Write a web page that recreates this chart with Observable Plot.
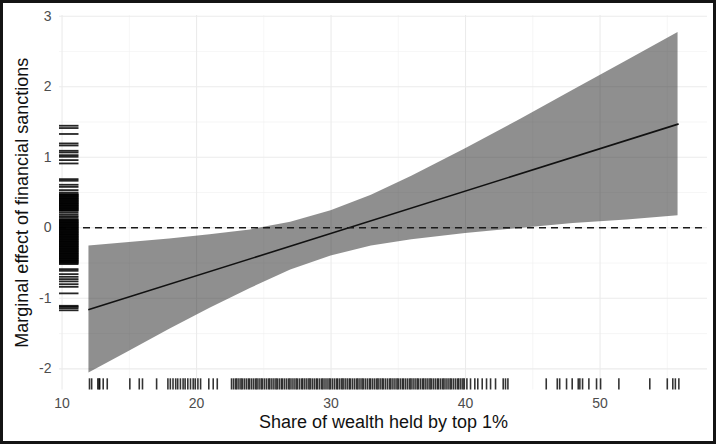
<!DOCTYPE html>
<html><head><meta charset="utf-8">
<script src="https://cdn.jsdelivr.net/npm/d3@7"></script>
<script src="https://cdn.jsdelivr.net/npm/@observablehq/plot@0.6"></script>
<style>
body{margin:0;background:#fff}
#frame{width:716px;height:444px;box-sizing:border-box;border:3px solid #141414;background:#fff;overflow:hidden}
#frame svg{display:block}
</style></head><body><div id="frame"></div>
<script>
// Confidence band of the marginal effect
const bandX    = [12, 15, 18, 21, 24, 27, 30, 33, 36, 40, 44, 48, 52, 55.8];
const bandLow  = [-2.06, -1.75, -1.44, -1.14, -0.86, -0.60, -0.40, -0.26, -0.17, -0.08, -0.01, 0.06, 0.11, 0.17];
const bandHigh = [-0.26, -0.21, -0.16, -0.10, -0.03, 0.08, 0.24, 0.46, 0.73, 1.12, 1.53, 1.95, 2.37, 2.77];
// Point estimate (straight line)
const effectX = [12, 55.8];
const effectY = [-1.16, 1.47];
// Reference line
const zeroLine = [0];
// Rug: observed share of wealth held by top 1%
const rugX = [12.04, 12.2, 12.66, 12.75, 12.8, 13.06, 13.36, 15.04, 15.74, 15.98, 17.03,
  17.87, 18.05, 18.25, 18.45, 18.6, 18.8, 19.0, 19.15, 19.35, 19.55, 19.75, 19.9, 20.1, 20.3,
  20.91, 21.24, 21.54,
  22.6, 22.75, 22.9, 23.0, 23.15, 23.3, 23.4, 23.55, 23.7, 23.85, 23.95, 24.1, 24.25, 24.4, 24.5,
  24.65, 24.8, 24.9, 25.05, 25.2, 25.35, 25.45, 25.6, 25.75, 25.9, 26.0, 26.15, 26.3, 26.4, 26.55,
  26.7, 26.85, 26.95, 27.1, 27.25, 27.4, 27.5, 27.65, 27.8, 27.9, 28.05, 28.2, 28.35, 28.45, 28.6,
  28.75, 28.9, 29.0, 29.15, 29.3, 29.4, 29.55, 29.7, 29.85, 29.95, 30.1, 30.25, 30.4, 30.5, 30.65,
  30.8, 30.9, 31.05, 31.2, 31.35, 31.45, 31.6, 31.75, 31.9, 32.0, 32.15, 32.3, 32.4, 32.55, 32.7,
  32.85, 32.95, 33.1, 33.25, 33.4, 33.5, 33.65, 33.8, 33.9, 34.05, 34.2, 34.35, 34.45, 34.6, 34.75,
  34.9, 35.0, 35.15, 35.3, 35.4, 35.55, 35.7, 35.85, 35.95, 36.1, 36.25, 36.4, 36.5, 36.65, 36.8,
  36.9, 37.05, 37.2, 37.35, 37.45, 37.6, 37.75, 37.9, 38.0, 38.15, 38.3, 38.4, 38.55, 38.7, 38.85,
  38.95, 39.1, 39.25, 39.4, 39.5, 39.65, 39.8, 39.9,
  40.1, 40.37, 40.69, 40.91, 41.24, 41.56, 41.86, 42.23, 42.8, 42.97, 43.15,
  46.0, 46.82, 47.0, 47.51, 47.93, 48.38, 48.5, 48.7, 49.17, 49.74, 50.04, 51.4, 53.7,
  55.0, 55.41, 55.6, 55.86];
// Rug: observed marginal effects
const rugY = [1.447, 1.414, 1.33, 1.196, 1.167, 1.092, 1.068, 1.03, 1.007, 0.96, 0.912,
  0.69, 0.667, 0.61, 0.58, 0.534, 0.50,
  0.478, 0.47, 0.46, 0.45, 0.44, 0.43, 0.42, 0.41, 0.40, 0.39, 0.38, 0.37, 0.36, 0.35, 0.34,
  0.33, 0.32, 0.31, 0.30, 0.29, 0.28, 0.27, 0.26, 0.25, 0.241,
  0.217, 0.19, 0.165, 0.146,
  0.123, 0.11, 0.10, 0.09, 0.08, 0.07, 0.06, 0.05, 0.04, 0.03, 0.02, 0.01, 0.0, -0.01, -0.02,
  -0.03, -0.04, -0.05, -0.06, -0.07, -0.08, -0.09, -0.10, -0.11, -0.12, -0.13, -0.14, -0.15,
  -0.16, -0.17, -0.18, -0.19, -0.20, -0.21, -0.22, -0.23, -0.24, -0.25, -0.26, -0.27, -0.28,
  -0.29, -0.30, -0.31, -0.32, -0.33, -0.34, -0.35, -0.36, -0.37, -0.38, -0.39, -0.40, -0.41,
  -0.42, -0.43, -0.44, -0.45, -0.46, -0.47, -0.48, -0.49, -0.50, -0.515,
  -0.586, -0.61, -0.657, -0.695, -0.728, -0.76, -0.80, -0.837, -0.93, -1.106, -1.12, -1.14, -1.17];
// Axis ticks and labels
const xMajor = [10, 20, 30, 40, 50];
const xMinor = [15, 25, 35, 45, 55];
const yMajor = [-2, -1, 0, 1, 2, 3];
const yMinor = [-1.5, -0.5, 0.5, 1.5, 2.5];
const xTitle = "Share of wealth held by top 1%";
const yTitle = "Marginal effect of financial sanctions";

const band = bandX.map((x, i) => ({x, lo: bandLow[i], hi: bandHigh[i]}));
const effect = effectX.map((x, i) => ({x, y: effectY[i]}));

const W = 710, H = 438;
const mL = 56, mR = 6, mT = 12, mB = 51.5;
const panelW = W - mL - mR, panelH = H - mT - mB;

const chart = Plot.plot({
  width: W, height: H,
  marginLeft: mL, marginRight: mR, marginTop: mT, marginBottom: mB,
  style: {fontFamily: "'Liberation Sans', Arial, Helvetica, sans-serif", fontSize: "14px", color: "#4d4d4d", background: "#fff"},
  x: {domain: [9.81, 57.99], ticks: xMajor, tickSize: 0, tickPadding: 8, label: null, tickFormat: d => String(d)},
  y: {domain: [-2.30, 3.01], ticks: yMajor, tickSize: 0, tickPadding: 8, label: null, tickFormat: d => String(d)},
  marks: [
    Plot.ruleX(xMinor, {stroke: "#f0f0f0", strokeWidth: 0.6}),
    Plot.ruleY(yMinor, {stroke: "#f0f0f0", strokeWidth: 0.6}),
    Plot.ruleX(xMajor, {stroke: "#ebebeb", strokeWidth: 1.1}),
    Plot.ruleY(yMajor, {stroke: "#ebebeb", strokeWidth: 1.1}),
    Plot.areaY(band, {x: "x", y1: "lo", y2: "hi", fill: "#1f1f1f", fillOpacity: 0.5}),
    Plot.line(effect, {x: "x", y: "y", stroke: "#111", strokeWidth: 1.6}),
    Plot.ruleY(zeroLine, {stroke: "#1a1a1a", strokeWidth: 1.4, strokeDasharray: "7,5"}),
    Plot.ruleX(rugX, {x: d => d, stroke: "#000", strokeOpacity: 0.8, strokeWidth: 1.6, insetTop: panelH - 11.2}),
    Plot.ruleY(rugY, {y: d => d, stroke: "#000", strokeOpacity: 0.85, strokeWidth: 1.8, insetRight: panelW - 19.5}),
    Plot.text([xTitle], {frameAnchor: "bottom", dy: 38, fontSize: 18, fill: "#111"}),
    Plot.text([yTitle], {frameAnchor: "left", textAnchor: "middle", dx: -37, rotate: -90, fontSize: 18, fill: "#111"})
  ]
});
document.getElementById("frame").appendChild(chart);
</script></body></html>
